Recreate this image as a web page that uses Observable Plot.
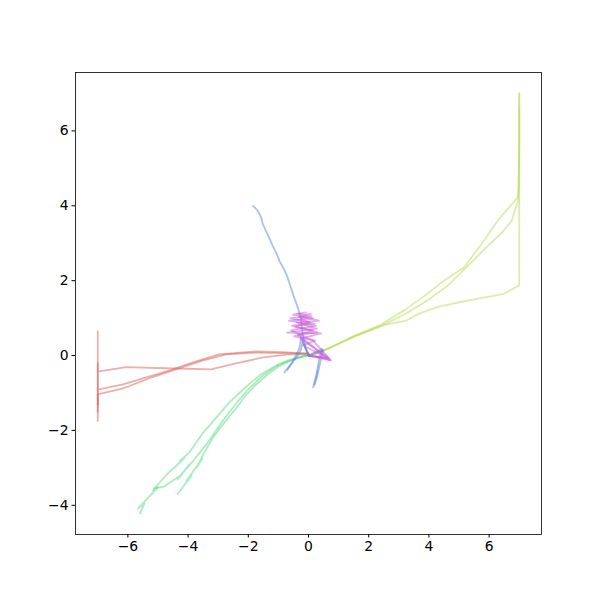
<!DOCTYPE html>
<html><head><meta charset="utf-8">
<script src="https://cdn.jsdelivr.net/npm/d3@7"></script>
<script src="https://cdn.jsdelivr.net/npm/@observablehq/plot@0.6"></script>
<style>body{margin:0;background:#fff}</style>
</head><body><div id="chart"></div>
<script>
const seriesNames = ["class 0", "class 1", "class 2", "class 3", "class 4"];
const seriesColors = ["#db5f57", "#b9db57", "#57db80", "#5784db", "#c957db"];
const xTicks = [-6, -4, -2, 0, 2, 4, 6];
const yTicks = [-4, -2, 0, 2, 4, 6];

const red1 = [[0,0.03],[-0.65,0.03],[-1.51,-0.05],[-2.41,-0.21],[-3.24,-0.37],[-4.73,-0.34],[-6.06,-0.31],[-7,-0.43],[-7,0.65],[-7,-1.5]];
const red2 = [[0,0.05],[-0.85,0.09],[-1.74,0.11],[-2.97,0.03],[-3.84,-0.18],[-4.63,-0.4],[-5.5,-0.61],[-6.16,-0.77],[-7,-0.91],[-7,-0.2],[-7,-1.75]];
const red3 = [[0,0.05],[-1.74,0.08],[-2.74,0.03],[-3.5,-0.13],[-4.4,-0.37],[-5.3,-0.61],[-6.16,-0.88],[-7,-1.04],[-7,-1.3]];

const yel1 = [[0.1,0],[0.4,0.1],[0.75,0.22],[1.51,0.51],[2.41,0.8],[3.24,0.93],[3.67,1.12],[4.3,1.3],[5.17,1.45],[6.49,1.65],[7,1.87],[7,4.3],[7,7]];
const yel2 = [[0.1,0],[0.75,0.22],[1.5,0.5],[2.4,0.78],[3.3,1.15],[4.0,1.5],[4.6,1.85],[5.2,2.32],[5.9,2.88],[6.45,3.3],[6.75,3.6],[6.97,4.15],[7,4.8],[7,7]];
const yel3 = [[0.1,0],[0.75,0.22],[1.5,0.52],[2.4,0.82],[3.2,1.22],[3.9,1.62],[4.5,2.0],[5.17,2.36],[5.75,2.98],[6.3,3.62],[6.96,4.23],[7,5.5],[7,6.6]];

const grn1 = [[0,0.02],[-0.35,-0.05],[-0.68,-0.13],[-1.1,-0.28],[-1.58,-0.5],[-1.95,-0.75],[-2.3,-1.0],[-2.65,-1.27],[-2.95,-1.55],[-3.25,-1.83],[-3.52,-2.08],[-3.75,-2.35],[-3.95,-2.58],[-4.28,-2.82],[-4.12,-2.74],[-4.7,-3.17],[-5.17,-3.6],[-5.0,-3.52],[-5.67,-4.09],[-5.45,-3.95],[-5.6,-4.22]];
const grn2 = [[0,0.02],[-0.5,-0.1],[-1.0,-0.25],[-1.5,-0.52],[-2.0,-0.9],[-2.32,-1.2],[-2.62,-1.5],[-2.9,-1.8],[-3.18,-2.13],[-3.4,-2.38],[-3.62,-2.6],[-3.85,-2.83],[-4.08,-3.05],[-3.95,-2.9],[-4.35,-3.3],[-4.2,-3.18],[-4.8,-3.5],[-5.13,-3.55]];
const grn3 = [[0,0.02],[-0.5,-0.1],[-1.0,-0.3],[-1.35,-0.5],[-1.8,-0.82],[-2.12,-1.1],[-2.42,-1.42],[-2.7,-1.7],[-2.98,-1.98],[-3.18,-2.2],[-3.36,-2.45],[-3.55,-2.72],[-3.72,-3.0],[-3.52,-2.75],[-4.05,-3.34],[-3.88,-3.2],[-4.35,-3.7]];

const blu1 = [[0,0.05],[-0.1,0.2],[-0.2,0.6],[-0.25,1.0],[-0.38,1.34],[-0.5,1.6],[-0.58,1.8],[-0.7,2.1],[-0.81,2.3],[-0.95,2.5],[-1.05,2.7],[-1.2,2.95],[-1.31,3.15],[-1.4,3.3],[-1.51,3.5],[-1.58,3.7],[-1.64,3.8],[-1.72,3.9],[-1.84,4.0]];
const blu2 = [[0,0.0],[-0.25,0.5],[-0.3,0.2],[-0.45,-0.05],[-0.6,-0.25],[-0.8,-0.45]];
const blu3 = [[0,0.0],[-0.2,0.4],[-0.25,0.15],[-0.4,-0.05],[-0.55,-0.2],[-0.7,-0.38]];
const blu4 = [[0,0.0],[0.45,0.18],[0.35,-0.1],[0.3,-0.35],[0.25,-0.55],[0.2,-0.75],[0.15,-0.85],[0.3,-0.4],[0.22,-0.7]];
const blu5 = [[0,0.0],[0.5,0.15],[0.4,-0.15],[0.32,-0.45],[0.2,-0.78],[0.38,-0.2],[0.28,-0.6]];

const pur1 = [[0,0],[0.4,-0.05],[0.75,-0.13],[0.15,0.4],[-0.58,0.67],[0.25,0.8],[-0.65,0.93],[0.15,0.99],[-0.52,1.09],[-0.08,1.15]];
const pur2 = [[0,0],[0.68,-0.08],[-0.25,0.45],[0.42,0.59],[-0.71,0.61],[0.28,0.72],[-0.38,0.88],[0.35,0.93],[-0.32,1.04],[0.08,1.12]];
const pur3 = [[0,0],[0.6,-0.05],[-0.18,0.27],[0.22,0.4],[-0.48,0.51],[0.15,0.67],[-0.45,0.77],[0.02,0.88],[-0.25,0.99]];
const pur4 = [[0,0],[0.7,-0.12],[0.05,0.3],[-0.35,0.55],[0.3,0.62],[-0.55,0.8],[0.2,0.85],[-0.6,1.0],[0.1,1.05],[-0.35,1.12]];

const trajectories = [
  ["class 0", red1], ["class 0", red2], ["class 0", red3],
  ["class 1", yel1], ["class 1", yel2], ["class 1", yel3],
  ["class 2", grn1], ["class 2", grn2], ["class 2", grn3],
  ["class 3", blu1], ["class 3", blu2], ["class 3", blu3], ["class 3", blu4], ["class 3", blu5],
  ["class 4", pur1], ["class 4", pur2], ["class 4", pur3], ["class 4", pur4]
];
const rows = trajectories.flatMap(([s, pts], i) => pts.map(([x, y]) => ({s, t: i, x, y})));

const chart = Plot.plot({
  width: 600, height: 600,
  marginLeft: 75, marginRight: 59, marginTop: 72, marginBottom: 66,
  style: {fontFamily: "DejaVu Sans", fontSize: "13.9px", background: "white", color: "black"},
  x: {domain: [-7.74, 7.74], label: null},
  y: {domain: [-4.78, 7.56], label: null},
  color: {type: "ordinal", domain: seriesNames, range: seriesColors},
  marks: [
    Plot.line(rows, {x: "x", y: "y", z: "t", stroke: "s", strokeWidth: 1.8, strokeOpacity: 0.5}),
    Plot.frame({stroke: "black", strokeWidth: 0.8}),
    Plot.axisX({ticks: xTicks, tickSize: 3.5, tickPadding: 3.5, label: null, fontSize: 13.9}),
    Plot.axisY({ticks: yTicks, tickSize: 3.5, tickPadding: 3.5, label: null, fontSize: 13.9})
  ]
});
document.getElementById("chart").appendChild(chart);
</script>
</body></html>
